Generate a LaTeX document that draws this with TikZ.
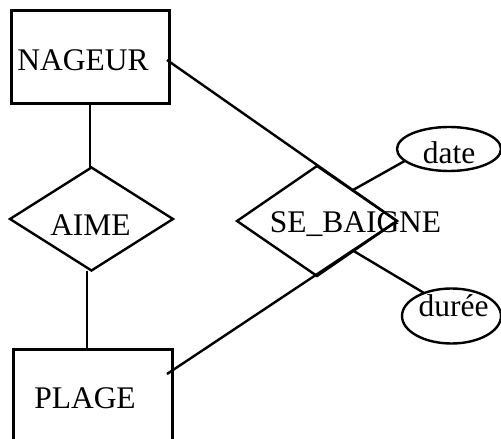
\documentclass[tikz,border=0pt]{standalone}
\usepackage{fontspec}
\setmainfont{Liberation Serif}
\usetikzlibrary{shapes.geometric,calc}
\begin{document}
\begin{tikzpicture}[x=1pt,y=-1pt,
  entity/.style={draw, rectangle, line width=3pt, inner sep=0pt, outer sep=0pt},
  relation/.style={draw, diamond, line width=2.4pt, inner sep=0pt, outer sep=0pt},
  attribute/.style={draw, ellipse, line width=2.4pt, inner sep=0pt, outer sep=0pt},
  lbl/.style={anchor=base, inner sep=0pt, font=\fontsize{31.5}{36}\selectfont},
  link/.style={line width=2.4pt}
]
\useasboundingbox (0,0) rectangle (501,439);
\clip (0,0) rectangle (501,439);

% entities
\node[entity, minimum width=158pt, minimum height=93pt] (nageur) at (90,56.5) {};
\node[lbl] (nageurtxt) at (83,70) {NAGEUR};
\node[entity, minimum width=159pt, minimum height=100pt] (plage) at (92.5,399) {};
\node[lbl] (plagetxt) at (85,408) {PLAGE};

% relationships
\node[relation, minimum width=163pt, minimum height=103pt] (aime) at (91.5,219) {};
\node[lbl] (aimetxt) at (90.5,235) {AIME};
\node[relation, minimum width=160pt, minimum height=110pt] (baigne) at (317,221) {};

% attributes
\node[attribute, minimum width=104pt, minimum height=44pt] (date) at (449,149) {};
\node[lbl] (datetxt) at (449,163) {date};
\node[attribute, minimum width=99pt, minimum height=55pt] (duree) at (451.5,316) {};
\node[lbl] (dureetxt) at (453.5,316.5) {durée};

% links
\draw[link] (nageur.south) -- (nageur.south |- aime.north);
\draw[link] ([xshift=-4.5pt]aime.south) -- ([xshift=-4.5pt]aime.south |- plage.north);
\draw[link] ([shift={(-2pt,-3.5pt)}]nageur.east) -- (baigne.east);
\draw[link] ([shift={(-5pt,-25pt)}]plage.north east) -- (baigne.east);
\coordinate (sedate) at (353,190);
\coordinate (sedur) at (352,250);
\draw[link] (sedate) -- (date.195);
\draw[link] (sedur) -- (duree.140);

\node[lbl] (baignetxt) at (355.5,232) {SE\_BAIGNE};
\end{tikzpicture}
\end{document}
